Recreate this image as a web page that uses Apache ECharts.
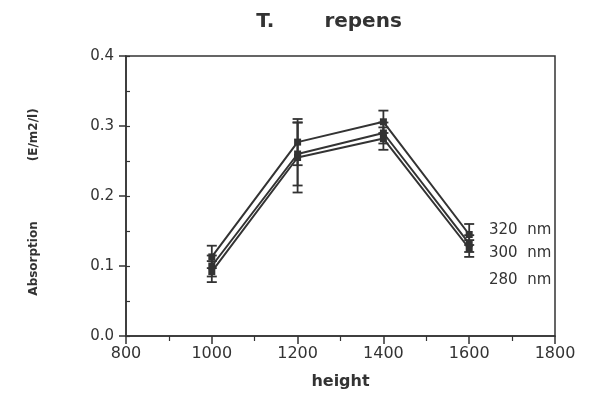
<!DOCTYPE html>
<html><head><meta charset="utf-8">
<script src="https://cdn.jsdelivr.net/npm/echarts@6/dist/echarts.min.js"></script>
<style>html,body{margin:0;padding:0;background:#fff}#c{width:590px;height:397px}</style>
</head><body><div id="c"></div>
<script>
const heights = [1000, 1200, 1400, 1600];
const seriesNames = ['320  nm', '300  nm', '280  nm'];
const abs320 = [0.113, 0.277, 0.306, 0.145];
const abs300 = [0.100, 0.260, 0.290, 0.132];
const abs280 = [0.092, 0.255, 0.282, 0.125];
const err320 = [0.016, 0.033, 0.016, 0.015];
const err300 = [0.015, 0.045, 0.015, 0.012];
const err280 = [0.015, 0.050, 0.016, 0.012];
const xTicks = [800, 1000, 1200, 1400, 1600, 1800];
const yTicks = [0.0, 0.1, 0.2, 0.3, 0.4];

const values = [abs320, abs300, abs280];
const errs = [err320, err300, err280];
const C = '#333';
const font = '"DejaVu Sans", Verdana, sans-serif';

const series = [];
values.forEach((v, i) => {
  series.push({
    name: seriesNames[i], type: 'line',
    data: heights.map((h, k) => [h, v[k]]),
    symbol: 'rect', symbolSize: 7,
    itemStyle: { color: C },
    lineStyle: { color: C, width: 2 },
    z: 3
  });
  series.push({
    type: 'custom',
    data: heights.map((h, k) => [h, v[k] - errs[i][k], v[k] + errs[i][k]]),
    renderItem: function (params, api) {
      const lo = api.coord([api.value(0), api.value(1)]);
      const hi = api.coord([api.value(0), api.value(2)]);
      const w = 5;
      const st = { stroke: C, lineWidth: 1.8 };
      return { type: 'group', children: [
        { type: 'line', shape: { x1: lo[0], y1: lo[1], x2: hi[0], y2: hi[1] }, style: st },
        { type: 'line', shape: { x1: lo[0] - w, y1: lo[1], x2: lo[0] + w, y2: lo[1] }, style: st },
        { type: 'line', shape: { x1: hi[0] - w, y1: hi[1], x2: hi[0] + w, y2: hi[1] }, style: st }
      ]};
    },
    z: 2
  });
});

const chart = echarts.init(document.getElementById('c'));
chart.setOption({
  animation: false,
  backgroundColor: '#fff',
  title: {
    text: '{a|T.}{b|repens}', left: 324, top: 7, textAlign: 'center',
    textStyle: { rich: {
      a: { fontFamily: font, fontSize: 20, fontWeight: 'bold', color: '#333' },
      b: { fontFamily: font, fontSize: 20, fontWeight: 'bold', color: '#333', padding: [0, 0, 0, 50] }
    } }
  },
  grid: { left: 126, right: 35, top: 56, bottom: 61, show: true, borderColor: C, borderWidth: 1.5 },
  xAxis: [{
    type: 'value', min: xTicks[0], max: xTicks[xTicks.length - 1], interval: 200,
    name: 'height', nameLocation: 'middle', nameGap: 38,
    nameTextStyle: { fontFamily: font, fontSize: 16, fontWeight: 'bold', color: '#333' },
    axisLine: { lineStyle: { color: C, width: 1.5 } },
    axisTick: { length: 8, lineStyle: { color: C, width: 1.5 } },
    minorTick: { show: true, splitNumber: 2, length: 5, lineStyle: { color: C, width: 1.2 } },
    splitLine: { show: false },
    axisLabel: { fontFamily: font, fontSize: 16, color: '#333', margin: 10,
      formatter: v => String(v) }
  }],
  yAxis: [{
    type: 'value', min: yTicks[0], max: yTicks[yTicks.length - 1], interval: 0.1,
    name: '{a|Absorption}{b|(E/m2/l)}', nameLocation: 'middle', nameGap: 86, nameRotate: 90,
    nameTextStyle: { rich: {
      a: { fontFamily: font, fontSize: 12, fontWeight: 'bold', color: '#333' },
      b: { fontFamily: font, fontSize: 12, fontWeight: 'bold', color: '#333', padding: [0, 12, 0, 60] }
    } },
    axisLine: { lineStyle: { color: C, width: 1.5 } },
    axisTick: { length: 7, lineStyle: { color: C, width: 1.5 } },
    splitLine: { show: false },
    axisLabel: { fontFamily: font, fontSize: 15, color: '#333', margin: 12,
      formatter: v => v.toFixed(1) }
  }, {
    type: 'value', position: 'left', min: 0, max: 0.4, interval: 0.05,
    axisLine: { show: false }, axisLabel: { show: false }, splitLine: { show: false },
    axisTick: { inside: true, length: 4, lineStyle: { color: C, width: 1.2 } }
  }],
  graphic: seriesNames.map((n, i) => ({
    type: 'text', x: 489, y: [230, 253, 280][i],
    style: { text: n, font: '15px ' + font, fill: '#333', verticalAlign: 'middle' }
  })),
  series: series
});
</script></body></html>
